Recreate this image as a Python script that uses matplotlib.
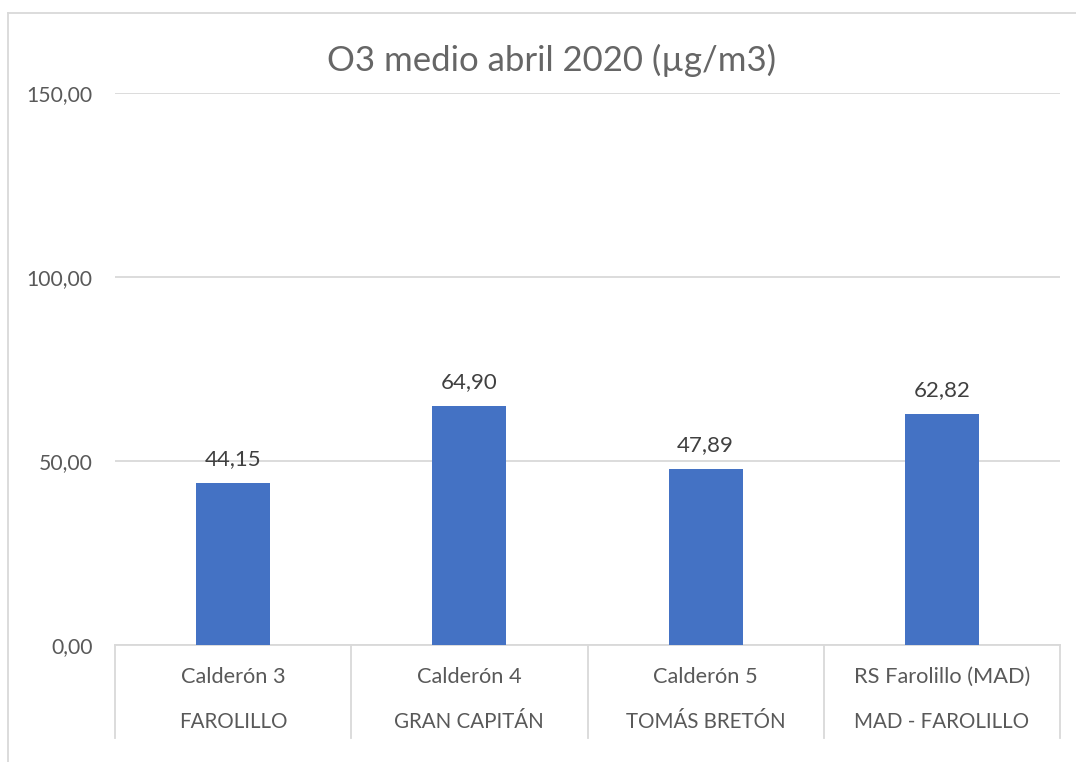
import matplotlib
matplotlib.use("Agg")
import matplotlib.pyplot as plt
from matplotlib.lines import Line2D
from matplotlib.transforms import blended_transform_factory

stations = ["Calderón 3", "Calderón 4", "Calderón 5", "RS Farolillo (MAD)"]
sites = ["FAROLILLO", "GRAN CAPITÁN", "TOMÁS BRETÓN", "MAD - FAROLILLO"]
values = [44.15, 64.90, 47.89, 62.82]
yticks = [0, 50, 100, 150]
title = "O3 medio abril 2020 (µg/m3)"

plt.rcParams['font.family'] = ['Lato', 'DejaVu Sans']

W, H = 1076, 762
fig = plt.figure(figsize=(W / 100, H / 100), dpi=100)
ax = fig.add_axes([115 / W, 1 - 645 / H, (1060 - 115) / W, (645 - 93) / H])

grid_c = "#D9D9D9"
x = list(range(len(values)))
ax.bar(x, values, width=0.314, color="#4472C4", zorder=3)
ax.set_xlim(-0.5, len(values) - 0.5)
ax.set_ylim(0, 150)
ax.set_yticks(yticks)
ax.set_yticklabels([f"{v:.2f}".replace('.', ',') for v in yticks],
                   fontsize=15.2, color="#595959")
ax.tick_params(axis='y', length=0, pad=16)
ax.set_xticks([])
for s in ["top", "right", "left"]:
    ax.spines[s].set_visible(False)
ax.spines["bottom"].set_color(grid_c)
ax.spines["bottom"].set_linewidth(1.3)
ax.yaxis.grid(True, color=grid_c, linewidth=1.3, zorder=0)
ax.set_axisbelow(True)

for xi, v in zip(x, values):
    ax.annotate(f"{v:.2f}".replace('.', ','), (xi, v), xytext=(0, 10),
                textcoords="offset points", ha="center", va="bottom",
                fontsize=16, color="#404040")

tr = blended_transform_factory(ax.transData, ax.transAxes)
for xi, (st, si) in enumerate(zip(stations, sites)):
    ax.text(xi, -0.058, st, transform=tr, ha="center", va="center",
            fontsize=15.7, color="#595959")
    ax.text(xi, -0.1395, si, transform=tr, ha="center", va="center",
            fontsize=14.8, color="#595959")
for b in [i - 0.5 for i in range(len(values) + 1)]:
    ax.add_line(Line2D([b, b], [0, -0.168], transform=tr, color=grid_c,
                       linewidth=1.3, clip_on=False))

fig.text(552 / W, 1 - 60 / H, title, ha="center", va="center",
         fontsize=25, color="#666666")

# chart area border
fig.add_artist(Line2D([8 / W, 8 / W], [0, 1 - 13 / H], color=grid_c, linewidth=1.3,
                      transform=fig.transFigure))
fig.add_artist(Line2D([8 / W, 1], [1 - 13 / H, 1 - 13 / H], color=grid_c, linewidth=1.3,
                      transform=fig.transFigure))

fig.savefig("out.png", dpi=100)
